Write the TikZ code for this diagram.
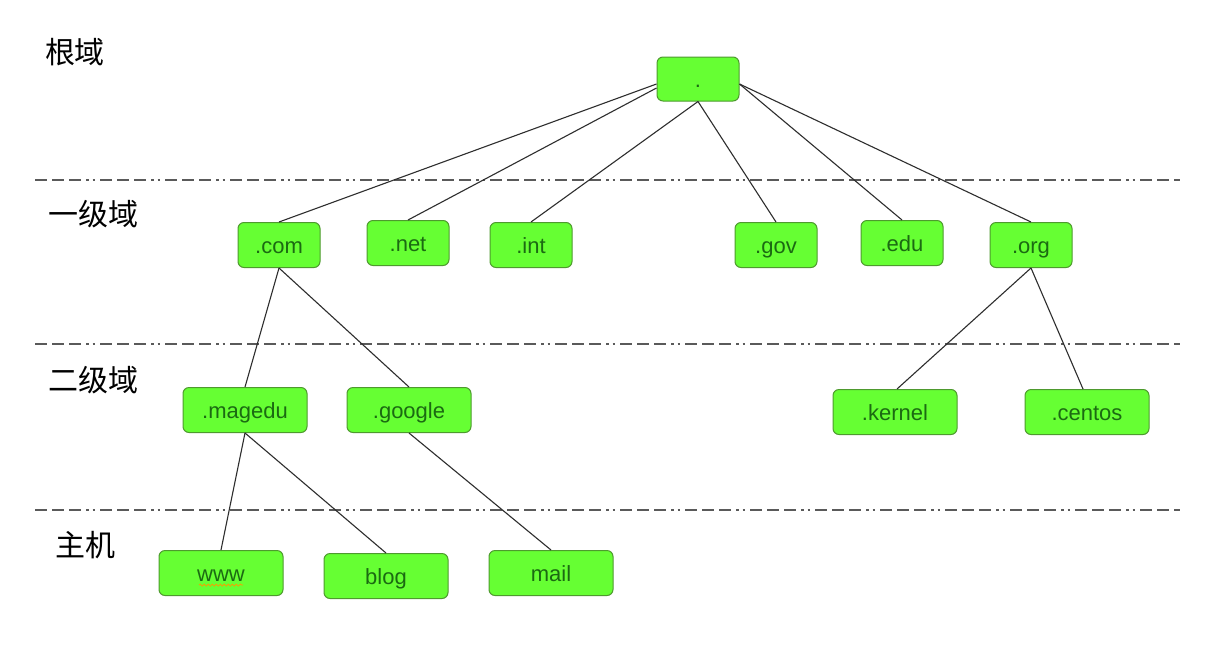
\documentclass[tikz,border=0pt]{standalone}
\usepackage{fontspec}
\setmainfont{Liberation Sans}
\newfontfamily\cjk{Noto Sans CJK SC}
\usetikzlibrary{decorations.pathmorphing}
\definecolor{nodefill}{HTML}{66FF33}
\definecolor{nodeborder}{HTML}{4E9A2E}
\definecolor{nodetext}{HTML}{1B6A12}
\definecolor{sepline}{HTML}{5A5A5A}
\definecolor{edgecol}{HTML}{2E2E2E}
\tikzset{
  dnode/.style={draw=nodeborder, fill=nodefill, line width=1pt, rounded corners=6pt,
    minimum width=82pt, minimum height=45pt, inner sep=0pt,
    text height=16pt, text depth=0pt,
    font=\fontsize{22}{24}\selectfont, text=nodetext},
  wnode/.style={dnode, minimum width=124pt},
  lvl/.style={font=\cjk\fontsize{30}{32}\selectfont, text=black},
  sep/.style={draw=sepline, line width=1.4pt,
    dash pattern=on 12pt off 5pt on 12pt off 5pt on 12pt off 5pt on 2.5pt off 4pt on 2.5pt off 5pt},
  edge/.style={draw=edgecol, line width=1.1pt}
}
\begin{document}
\begin{tikzpicture}[x=1pt,y=-1pt]
\useasboundingbox (0,0) rectangle (1213,646);
\fill[white] (0,0) rectangle (1213,646);

% separators
\coordinate (s1a) at (35,180); \coordinate (s1b) at (1180,180);
\coordinate (s2a) at (35,344); \coordinate (s2b) at (1180,344);
\coordinate (s3a) at (35,510); \coordinate (s3b) at (1180,510);
\draw[sep] (s1a) -- (s1b);
\draw[sep] (s2a) -- (s2b);
\draw[sep] (s3a) -- (s3b);

% level labels
\node[lvl] (l0) at (75,52) {根域};
\node[lvl] (l1) at (93,214) {一级域};
\node[lvl] (l2) at (93,380) {二级域};
\node[lvl] (l3) at (85,545) {主机};

% nodes
\node[dnode, minimum height=44pt] (root) at (698,79) {.};
\node[dnode] (com) at (279,245) {.com};
\node[dnode] (net) at (408,243) {.net};
\node[dnode] (int) at (531,245) {.int};
\node[dnode] (gov) at (776,245) {.gov};
\node[dnode] (edu) at (902,243) {.edu};
\node[dnode] (org) at (1031,245) {.org};
\node[wnode] (magedu) at (245,410) {.magedu};
\node[wnode] (google) at (409,410) {.google};
\node[wnode] (kernel) at (895,412) {.kernel};
\node[wnode] (centos) at (1087,412) {.centos};
\node[wnode] (www) at (221,573) {www};
\node[wnode] (blog) at (386,576) {blog};
\node[wnode] (mail) at (551,573) {mail};

% spell-check squiggle under www
\draw[draw=orange!80!yellow, line width=0.7pt, decorate,
  decoration={snake, amplitude=1pt, segment length=4pt}]
  ([xshift=-22pt,yshift=-12pt]www.center) -- ([xshift=22pt,yshift=-12pt]www.center);

% edges
\draw[edge] ([yshift=-5pt]root.west) -- (com.north);
\draw[edge] ([yshift=-9pt]root.west) -- (net.north);
\draw[edge] (root.south) -- (int.north);
\draw[edge] (root.south) -- (gov.north);
\draw[edge] ([yshift=-5pt]root.east) -- (edu.north);
\draw[edge] ([yshift=-5pt]root.east) -- (org.north);
\draw[edge] (com.south) -- (magedu.north);
\draw[edge] (com.south) -- (google.north);
\draw[edge] (org.south) -- ([xshift=2pt]kernel.north);
\draw[edge] (org.south) -- ([xshift=-4pt]centos.north);
\draw[edge] (magedu.south) -- (www.north);
\draw[edge] (magedu.south) -- (blog.north);
\draw[edge] (google.south) -- (mail.north);
\end{tikzpicture}
\end{document}
